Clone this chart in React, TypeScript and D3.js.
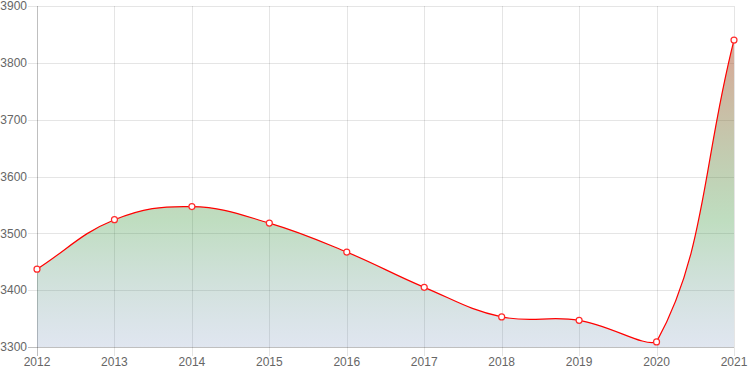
import React, { useRef, useEffect } from 'react';
import * as d3 from 'd3';

const years = ['2012', '2013', '2014', '2015', '2016', '2017', '2018', '2019', '2020', '2021'];
const values = [3437, 3524, 3547, 3518, 3467, 3405, 3353, 3347, 3309, 3840];
const yTicks = [3300, 3400, 3500, 3600, 3700, 3800, 3900];

const W = 750;
const H = 375;

const App = () => {
    const svgRef = useRef<SVGSVGElement | null>(null);
    const area = { left: 37, right: 734, top: 6, bottom: 347 };

    useEffect(() => {
        if (!svgRef.current) {
            return;
        }
        const svg = d3.select(svgRef.current);
        svg.selectAll('*').remove();

        const x = d3.scalePoint<string>().domain(years).range([area.left, area.right]);
        const y = d3.scaleLinear().domain([3300, 3900]).range([area.bottom, area.top]);

        const font = '"Liberation Sans", Arial, Helvetica, sans-serif';

        // gradient fill under the line
        const defs = svg.append('defs');
        const grad = defs
            .append('linearGradient')
            .attr('id', 'fillGrad')
            .attr('gradientUnits', 'userSpaceOnUse')
            .attr('x1', 0)
            .attr('x2', 0)
            .attr('y1', area.top)
            .attr('y2', area.bottom);
        const stops = [
            { o: 0, c: 'rgb(190,60,30)', a: 0.5 },
            { o: 0.1, c: 'rgb(183,75,43)', a: 0.5 },
            { o: 0.63, c: 'rgb(42,142,45)', a: 0.3 },
            { o: 1, c: 'rgb(100,130,180)', a: 0.2 },
        ];
        grad.selectAll('stop')
            .data(stops)
            .join('stop')
            .attr('offset', d => d.o)
            .attr('stop-color', d => d.c)
            .attr('stop-opacity', d => d.a);

        // grid
        const grid = svg.append('g');
        grid.selectAll('.hgrid')
            .data(yTicks)
            .join('line')
            .attr('x1', area.left - 9)
            .attr('x2', area.right)
            .attr('y1', d => Math.round(y(d)) + 0.5)
            .attr('y2', d => Math.round(y(d)) + 0.5)
            .attr('stroke', d => (d === 3300 ? 'rgba(0,0,0,0.25)' : 'rgba(0,0,0,0.1)'))
            .attr('stroke-width', 1);
        grid.selectAll('.vgrid')
            .data(years)
            .join('line')
            .attr('x1', d => Math.round(x(d)!) + 0.5)
            .attr('x2', d => Math.round(x(d)!) + 0.5)
            .attr('y1', area.top)
            .attr('y2', area.bottom + 9)
            .attr('stroke', (d, i) => (i === 0 ? 'rgba(0,0,0,0.25)' : 'rgba(0,0,0,0.1)'))
            .attr('stroke-width', 1);

        // spline points (Chart.js style tension 0.4, capped to chart area)
        const pts = values.map((v, i) => ({ x: x(years[i])!, y: y(v) }));
        const tension = 0.4;
        const ctrl = pts.map((cur, i) => {
            const prev = pts[i - 1] || cur;
            const next = pts[i + 1] || cur;
            const d01 = Math.hypot(cur.x - prev.x, cur.y - prev.y);
            const d12 = Math.hypot(next.x - cur.x, next.y - cur.y);
            let s01 = d01 / (d01 + d12);
            let s12 = d12 / (d01 + d12);
            s01 = isNaN(s01) ? 0 : s01;
            s12 = isNaN(s12) ? 0 : s12;
            const fa = tension * s01;
            const fb = tension * s12;
            const cap = (p: { x: number; y: number }) => ({
                x: Math.max(area.left, Math.min(area.right, p.x)),
                y: Math.max(area.top, Math.min(area.bottom, p.y)),
            });
            return {
                prev: cap({ x: cur.x - fa * (next.x - prev.x), y: cur.y - fa * (next.y - prev.y) }),
                next: cap({ x: cur.x + fb * (next.x - prev.x), y: cur.y + fb * (next.y - prev.y) }),
            };
        });
        const linePath = d3.path();
        linePath.moveTo(pts[0].x, pts[0].y);
        for (let i = 1; i < pts.length; i++) {
            linePath.bezierCurveTo(ctrl[i - 1].next.x, ctrl[i - 1].next.y, ctrl[i].prev.x, ctrl[i].prev.y, pts[i].x, pts[i].y);
        }
        const lineD = linePath.toString();
        const last = pts[pts.length - 1];
        const areaD = lineD + `L${last.x},${area.bottom}L${pts[0].x},${area.bottom}Z`;

        svg.append('path').attr('d', areaD).attr('fill', 'url(#fillGrad)');
        svg.append('path')
            .attr('d', lineD)
            .attr('fill', 'none')
            .attr('stroke', '#ff0000')
            .attr('stroke-width', 1.2);

        svg.selectAll('.pt')
            .data(pts)
            .join('circle')
            .attr('cx', d => d.x)
            .attr('cy', d => d.y)
            .attr('r', 3)
            .attr('fill', '#fff')
            .attr('stroke', '#ff2a2a')
            .attr('stroke-width', 1.2);

        // labels
        svg.selectAll('.ylab')
            .data(yTicks)
            .join('text')
            .attr('x', 27)
            .attr('y', d => y(d))
            .attr('dy', '0.36em')
            .attr('text-anchor', 'end')
            .attr('font-family', font)
            .attr('font-size', 12)
            .attr('fill', '#666')
            .text(d => d);
        svg.selectAll('.xlab')
            .data(years)
            .join('text')
            .attr('x', d => x(d)!)
            .attr('y', 366)
            .attr('text-anchor', 'middle')
            .attr('font-family', font)
            .attr('font-size', 12)
            .attr('fill', '#666')
            .text(d => d);
    }, []);

    return (
        <svg
            ref={svgRef}
            width={W}
            height={H}
            style={{ position: 'absolute', left: 0, top: 0, background: '#fff' }}
        ></svg>
    );
};

export default App;
